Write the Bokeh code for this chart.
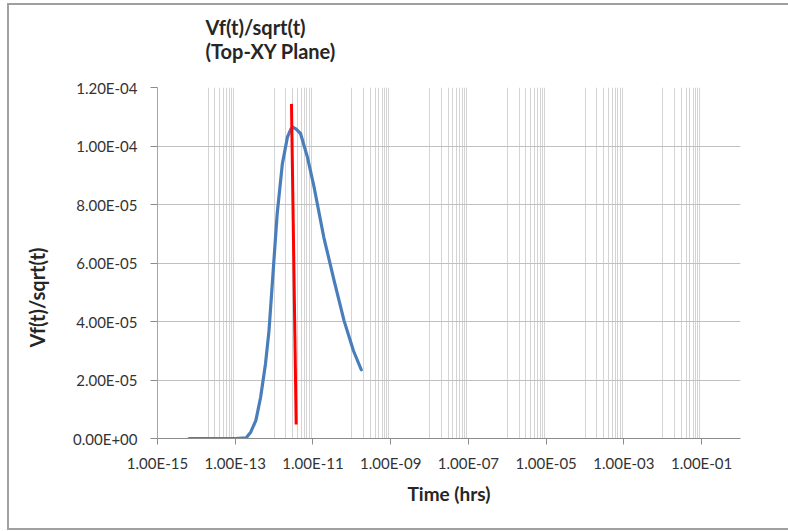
import math
from bokeh.plotting import figure
from bokeh.models import (Range1d, FixedTicker, CustomJSTickFormatter, Title,
                          ColumnDataSource)
from bokeh.embed import file_html
from bokeh.resources import INLINE

# ---- data ----
time_hrs = [6.5e-15, 1.0e-13, 1.9e-13, 2.5e-13, 3.4e-13, 4.5e-13, 6.0e-13, 7.4e-13,
            9.1e-13, 1.2e-12, 1.63e-12, 2.2e-12, 2.7e-12, 3.1e-12, 3.7e-12, 4.8e-12,
            7.2e-12, 1.07e-11, 1.9e-11, 3.5e-11, 6.3e-11, 1.1e-10, 1.75e-10]
vf_sqrt_t = [0.0, 0.0, 2e-7, 2.15e-6, 6.2e-6, 1.41e-5, 2.55e-5, 3.69e-5,
             5.4e-5, 7.68e-5, 9.39e-5, 1.03e-4, 1.058e-4, 1.064e-4, 1.058e-4, 1.042e-4,
             9.62e-5, 8.59e-5, 6.88e-5, 5.4e-5, 4.03e-5, 3.0e-5, 2.35e-5]

marker_time = [2.8e-12, 3.7e-12]
marker_val = [1.144e-4, 4.8e-6]

x_ticks = [1e-15, 1e-13, 1e-11, 1e-9, 1e-7, 1e-5, 1e-3, 1e-1]
y_ticks = [0.0, 2e-5, 4e-5, 6e-5, 8e-5, 1e-4, 1.2e-4]

title_line1 = "Vf(t)/sqrt(t)"
title_line2 = "(Top-XY Plane)"
x_title = "Time (hrs)"
y_title = "Vf(t)/sqrt(t)"

# minor gridlines like Excel's log base-100 axis: 10x..90x of each major
x_minor = []
for i, m in enumerate(x_ticks):
    for k in range(1, 10):
        if i == 0 and k == 1:
            continue
        x_minor.append(m * 10 * k)

TICK_FONT = "Lato"
TITLE_FONT = "Lato"
BORDER = "#a0a0a0"

p = figure(width=788, height=531, x_axis_type="log",
           x_range=Range1d(1e-15, 1.0), y_range=Range1d(0, 1.2e-4),
           output_backend="svg", toolbar_location=None, title=None,
           min_border_left=157, min_border_right=48,
           min_border_top=87, min_border_bottom=93)
p.outline_line_color = None
p.background_fill_color = "white"
p.border_fill_color = None
# outer chart frame (left, top, bottom edges; right edge lies outside the window)
p.styles = {
    "background-color": "white",
    "background-image": (f"linear-gradient({BORDER},{BORDER}), "
                         f"linear-gradient({BORDER},{BORDER}), "
                         f"linear-gradient({BORDER},{BORDER})"),
    "background-size": "2px 527px, 800px 2px, 800px 2px",
    "background-position": "7px 3px, 7px 3px, 7px 528px",
    "background-repeat": "no-repeat",
}

fmt = CustomJSTickFormatter(code="""
const s = tick.toExponential(2);
const parts = s.split("e");
const sign = parts[1][0];
let d = parts[1].slice(1);
if (d.length < 2) { d = "0" + d; }
return parts[0] + "E" + sign + d;
""")

# x axis
xa = p.xaxis[0]
xa.ticker = FixedTicker(ticks=x_ticks)
xa.formatter = fmt
xa.minor_tick_line_color = None
xa.major_tick_in = 0
xa.major_tick_out = 6
xa.axis_line_color = "#8c8c8c"
xa.major_tick_line_color = "#8c8c8c"
xa.major_label_text_font = TICK_FONT
xa.major_label_text_font_size = "15px"
xa.major_label_text_color = "#333333"
xa.major_label_standoff = 9
xa.axis_label = x_title
xa.axis_label_text_font = TITLE_FONT
xa.axis_label_text_font_style = "bold"
xa.axis_label_text_font_size = "19px"
xa.axis_label_text_color = "#262626"
xa.axis_label_standoff = 7

# y axis
ya = p.yaxis[0]
ya.ticker = FixedTicker(ticks=y_ticks)
ya.formatter = fmt
ya.minor_tick_line_color = None
ya.major_tick_in = 0
ya.major_tick_out = 7
ya.axis_line_color = "#a6a6a6"
ya.major_tick_line_color = "#8c8c8c"
ya.major_label_text_font = TICK_FONT
ya.major_label_text_font_size = "15px"
ya.major_label_text_color = "#333333"
ya.major_label_standoff = 13

# grids
p.xgrid.ticker = FixedTicker(ticks=x_ticks, minor_ticks=x_minor)
p.xgrid.grid_line_color = None
p.xgrid.minor_grid_line_color = "#d4d4d4"
p.xgrid.minor_grid_line_width = 1
p.ygrid.ticker = FixedTicker(ticks=y_ticks)
p.ygrid.grid_line_color = "#c0c0c0"
p.ygrid.grid_line_width = 1

src = ColumnDataSource(dict(t=time_hrs, v=vf_sqrt_t))
p.line("t", "v", source=src, line_color="#4a7ebb", line_width=3.2,
       line_join="round", line_cap="round")
msrc = ColumnDataSource(dict(t=marker_time, v=marker_val))
p.line("t", "v", source=msrc, line_color="#ff0000", line_width=3)

# chart title (two lines, left-aligned), nearest line added first
p.add_layout(Title(text=title_line2, align="left", offset=48, standoff=50,
                   text_font=TITLE_FONT, text_font_style="bold", text_font_size="20px",
                   text_color="#262626"), "above")
p.add_layout(Title(text=title_line1, align="left", offset=48, standoff=-54,
                   text_font=TITLE_FONT, text_font_style="bold", text_font_size="20px",
                   text_color="#262626"), "above")

# y-axis title, placed like the reference (below the axis centre)
p.add_layout(Title(text=y_title, align="left", offset=91, standoff=44,
                   text_font=TITLE_FONT, text_font_style="bold", text_font_size="20px",
                   text_color="#262626"), "left")

open("out.html", "w").write(file_html(p, INLINE))
